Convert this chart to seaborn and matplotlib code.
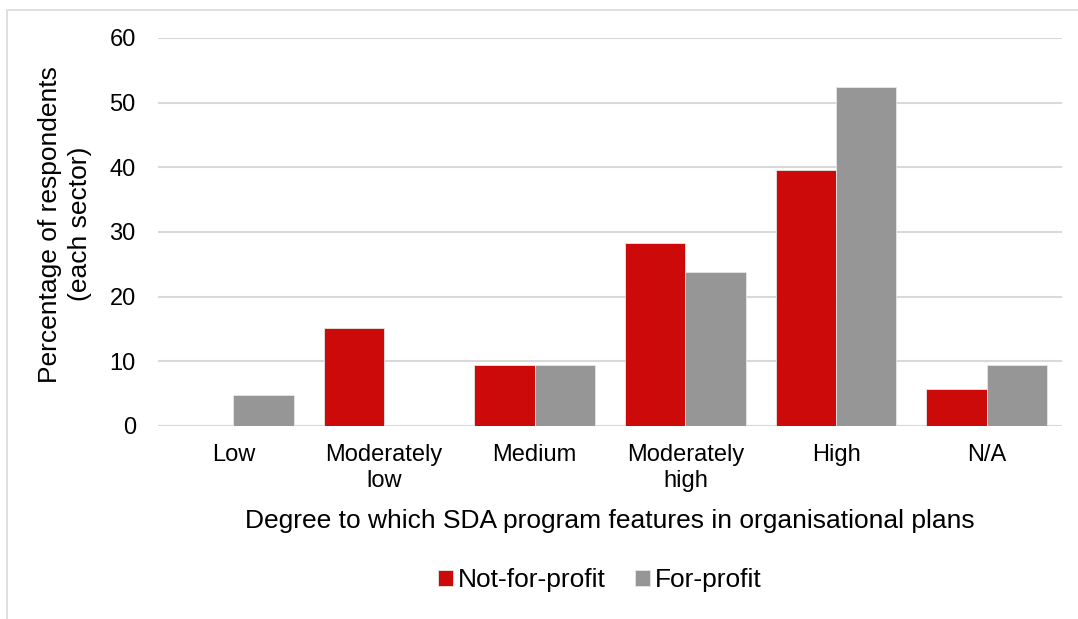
import pandas as pd
import seaborn as sns
import matplotlib.pyplot as plt
from matplotlib.patches import Rectangle

categories = ["Low", "Moderately\nlow", "Medium", "Moderately\nhigh", "High", "N/A"]
not_for_profit = [0.0, 15.1, 9.4, 28.3, 39.6, 5.7]
for_profit = [4.8, 0.0, 9.5, 23.8, 52.4, 9.5]
sectors = ["Not-for-profit", "For-profit"]

df = pd.DataFrame({
    "category": categories * 2,
    "value": not_for_profit + for_profit,
    "sector": [sectors[0]] * len(categories) + [sectors[1]] * len(categories),
})

sns.set_style("white")
plt.rcParams["font.family"] = ["Liberation Sans", "DejaVu Sans"]
plt.rcParams["text.color"] = "black"
plt.rcParams["axes.labelcolor"] = "black"

fig = plt.figure(figsize=(10.78, 6.19), dpi=100)
ax = fig.add_axes([158 / 1078, 1 - 426 / 619, (1062 - 158) / 1078, (426 - 38) / 619])

# light border of the chart area
fig.patches.append(Rectangle((7 / 1078, -0.1), 1.2, 1 - 10 / 619 + 0.1,
                             transform=fig.transFigure, fill=False,
                             edgecolor="#d9d9d9", linewidth=1.2, zorder=0))

sns.barplot(data=df, x="category", y="value", hue="sector", ax=ax,
            palette=["#cc0a0a", "#969696"], width=0.8, saturation=1,
            edgecolor="#e6e6e6", linewidth=0.6, zorder=3)

ax.set_ylim(0, 60)
ax.set_yticks(range(0, 61, 10))
ax.set_xlim(-0.5, len(categories) - 0.5)
ax.yaxis.grid(True, color="#d9d9d9", linewidth=1.5, zorder=0)
ax.set_axisbelow(True)
for s in ["top", "right", "left", "bottom"]:
    ax.spines[s].set_visible(False)
ax.axhline(0, color="#d9d9d9", linewidth=1.5, zorder=1)
ax.tick_params(axis="both", length=0, labelsize=17, colors="black")
ax.tick_params(axis="y", pad=16)
ax.tick_params(axis="x", pad=13)
for lab in ax.get_xticklabels():
    lab.set_linespacing(1.25)

ax.set_ylabel("Percentage of respondents\n(each sector)", fontsize=19,
              linespacing=1.3)
ax.yaxis.set_label_coords(-0.073, 0.52)
ax.set_xlabel("Degree to which SDA program features in organisational plans",
              fontsize=19, labelpad=12)

ax.legend(title=None, loc="center", bbox_to_anchor=(600 / 1078, 1 - 580 / 619),
          bbox_transform=fig.transFigure, ncol=2, frameon=False, fontsize=19,
          handlelength=0.55, handleheight=0.55, handletextpad=0.2, columnspacing=1.1)

fig.savefig("out.png", dpi=100)
